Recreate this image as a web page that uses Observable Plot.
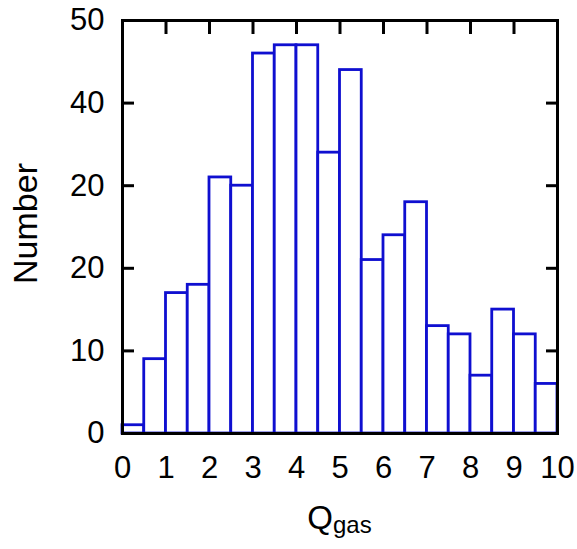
<!DOCTYPE html>
<html><head><meta charset="utf-8">
<script src="https://cdn.jsdelivr.net/npm/d3@7"></script>
<script src="https://cdn.jsdelivr.net/npm/@observablehq/plot@0.6"></script>
<style>body{margin:0;background:#fff}</style>
</head><body><div id="chart"></div>
<script>
// Histogram bins of Q_gas (width 0.5)
const binStart = [0, 0.5, 1, 1.5, 2, 2.5, 3, 3.5, 4, 4.5, 5, 5.5, 6, 6.5, 7, 7.5, 8, 8.5, 9, 9.5];
const binEnd   = [0.5, 1, 1.5, 2, 2.5, 3, 3.5, 4, 4.5, 5, 5.5, 6, 6.5, 7, 7.5, 8, 8.5, 9, 9.5, 10];
const counts   = [1, 9, 17, 18, 31, 30, 46, 47, 47, 34, 44, 21, 24, 28, 13, 12, 7, 15, 12, 6];

const xTicks = [0, 1, 2, 3, 4, 5, 6, 7, 8, 9, 10];
const xInnerTicks = [1, 2, 3, 4, 5, 6, 7, 8, 9];
const yTicks = [0, 10, 20, 30, 40, 50];
const yTickLabels = ["0", "10", "20", "20", "40", "50"];
const yInnerTicks = [10, 20, 30, 40];
const xLabelMain = "Q";
const xLabelSub = "gas";
const yLabel = "Number";

const bins = binStart.map((s, i) => ({x1: s, x2: binEnd[i], count: counts[i]}));

const W = 577, H = 549, mL = 122, mR = 20, mT = 20, mB = 116;
const barColor = "#0f0fd0";

const svg = Plot.plot({
  width: W, height: H,
  marginLeft: mL, marginRight: mR, marginTop: mT, marginBottom: mB,
  style: {fontFamily: "'Liberation Sans', Arial, Helvetica, sans-serif", fontSize: "31px", color: "black", background: "white"},
  x: {domain: [0, 10]},
  y: {domain: [0, 50]},
  marks: [
    Plot.rect(bins, {x1: "x1", x2: "x2", y1: 0, y2: "count", fill: "white", stroke: barColor, strokeWidth: 2.8}),
    Plot.axisY(yTicks, {anchor: "left", tickSize: 0, tickPadding: 18, fontSize: 31, label: null,
      tickFormat: d => yTickLabels[yTicks.indexOf(d)]}),
    Plot.axisY(yInnerTicks, {anchor: "left", tickSize: -12, strokeWidth: 3, fill: "none", label: null}),
    Plot.axisY(yInnerTicks, {anchor: "right", tickSize: -12, strokeWidth: 3, fill: "none", label: null}),
    Plot.axisX(xTicks, {anchor: "bottom", tickSize: 0, tickPadding: 22, fontSize: 31, label: null, tickFormat: d => String(d)}),
    Plot.axisX(xInnerTicks, {anchor: "top", tickSize: -13, strokeWidth: 3, fill: "none", label: null}),
    Plot.frame({stroke: "black", strokeWidth: 3})
  ]
});

const s = d3.select(svg);
s.append("text")
  .attr("transform", `translate(37,${(mT + H - mB) / 2 - 3}) rotate(-90)`)
  .attr("text-anchor", "middle")
  .attr("font-size", 34)
  .attr("fill", "black")
  .text(yLabel);
const xl = s.append("text")
  .attr("x", (mL + W - mR) / 2)
  .attr("y", 529)
  .attr("text-anchor", "middle")
  .attr("fill", "black");
xl.append("tspan").attr("font-size", 33).text(xLabelMain);
xl.append("tspan").attr("font-size", 24).attr("dy", 4).text(xLabelSub);

document.getElementById("chart").appendChild(svg);
</script>
</body></html>
